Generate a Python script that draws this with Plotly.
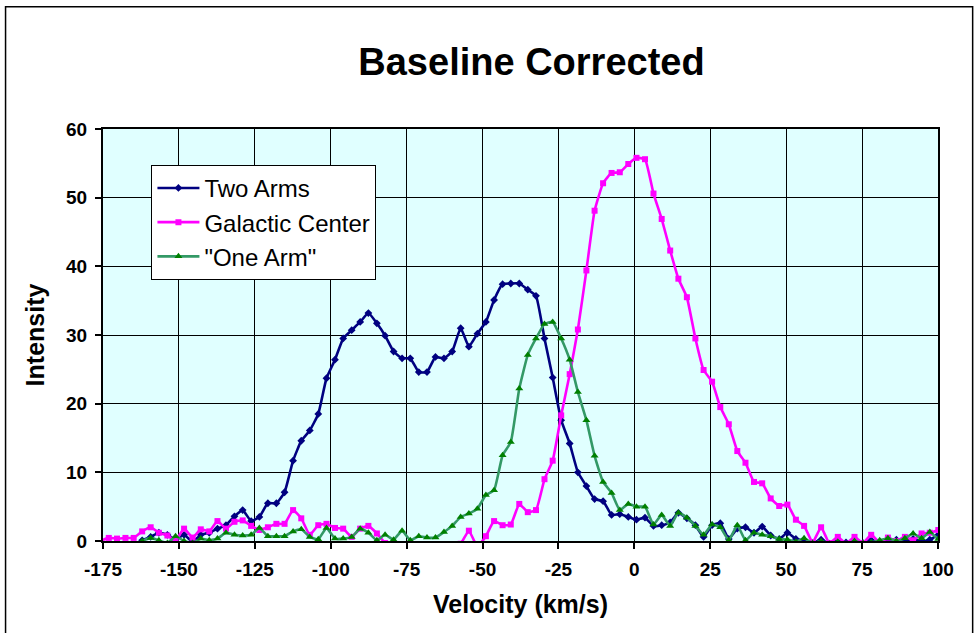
import plotly.graph_objects as go

# Velocity channels (km/s)
velocity = [
    -175.9, -173.1, -170.4, -167.6, -164.9,
    -162.1, -159.3, -156.6, -153.8, -151.1, -148.3, -145.5, -142.8, -140.0, -137.3,
    -134.5, -131.7, -129.0, -126.2, -123.5, -120.7, -117.9, -115.2, -112.4, -109.7,
    -106.9, -104.1, -101.4, -98.6, -95.9, -93.1, -90.3, -87.6, -84.8, -82.1,
    -79.3, -76.5, -73.8, -71.0, -68.3, -65.5, -62.7, -60.0, -57.2, -54.5,
    -51.7, -48.9, -46.2, -43.4, -40.7, -37.9, -35.1, -32.4, -29.6, -26.9,
    -24.1, -21.3, -18.6, -15.8, -13.1, -10.3, -7.5, -4.8, -2.0, 0.7,
    3.5, 6.3, 9.0, 11.8, 14.5, 17.3, 20.1, 22.8, 25.6, 28.3,
    31.1, 33.9, 36.6, 39.4, 42.1, 44.9, 47.7, 50.4, 53.2, 55.9,
    58.7, 61.5, 64.2, 67.0, 69.7, 72.5, 75.3, 78.0, 80.8, 83.5,
    86.3, 89.1, 91.8, 94.6, 97.3, 100.1, 102.9,
]

two_arms = [
    None, None, None, None, None,
    0.1, 0.6, 1.2, 0.9, 0.2, 0.9, -0.1, 0.9, 1.2, 1.8,
    2.3, 3.6, 4.5, 2.9, 3.5, 5.5, 5.5, 7.1, 11.7, 14.6,
    16.1, 18.5, 23.7, 26.4, 29.5, 30.7, 31.9, 33.2, 31.7, 29.9,
    27.6, 26.6, 26.6, 24.6, 24.6, 26.8, 26.6, 27.6, 31.0, 28.3,
    30.2, 31.9, 35.1, 37.4, 37.5, 37.5, 36.6, 35.7, 29.5, 23.8,
    17.6, 14.2, 10.0, 8.0, 6.1, 5.8, 3.8, 3.9, 3.5, 3.1,
    3.4, 2.2, 2.3, 2.7, 4.1, 3.3, 2.3, 0.6, 2.3, 2.6,
    0.3, 1.8, 2.0, 1.2, 2.1, 0.8, 0.3, 1.2, 0.3, 0.0,
    -0.3, 0.2, -0.4, 0.1, -0.2, 0.0, -0.3, 0.1, -0.2, 0.0,
    0.2, -0.1, 0.3, 0.0, 0.2, 0.9, 1.4,
]

galactic_center = [
    0.0, 0.45, 0.35, 0.45, 0.45,
    1.4, 2.0, 1.2, 0.8, 0.1, 1.8, 0.5, 1.7, 1.4, 2.9,
    1.8, 2.8, 3.0, 2.2, 1.6, 2.0, 2.5, 2.5, 4.5, 3.3,
    0.9, 2.3, 2.5, 1.9, 1.8, 0.6, 1.8, 2.2, 1.1, -0.3,
    -1.0, -0.6, -1.3, -0.8, -1.4, -1.0, -0.7, -1.1, -0.4, 1.5,
    -0.8, 0.7, 2.9, 2.3, 2.4, 5.4, 4.2, 4.5, 9.0, 11.7,
    18.3, 24.3, 30.8, 39.4, 48.1, 52.1, 53.6, 53.7, 54.9, 55.8,
    55.6, 50.6, 46.9, 42.3, 38.2, 35.5, 29.5, 24.9, 23.2, 19.5,
    17.0, 13.1, 11.4, 8.6, 8.4, 6.2, 5.1, 5.3, 3.1, 2.2,
    -0.2, 2.0, -0.3, 0.6, -0.4, 0.6, -0.3, 0.9, -0.2, 0.5,
    0.0, 0.6, 0.1, 1.1, 1.2, 1.6, 2.0,
]

one_arm = [
    None, None, None, None, None,
    0.0, 0.45, 0.1, -0.3, 0.7, 0.0, -0.3, 0.35, 0.1, 0.35,
    1.2, 0.9, 0.8, 0.9, 1.9, 0.7, 0.7, 0.7, 1.4, 1.7,
    0.6, 0.25, 1.9, 0.35, 0.35, 0.6, 1.8, 1.2, 0.1, 0.9,
    0.2, 1.5, 0.1, 0.7, 0.5, 0.5, 1.3, 2.2, 3.5, 4.0,
    4.7, 6.7, 7.4, 12.5, 14.4, 22.2, 27.1, 29.5, 31.6, 31.9,
    29.5, 26.4, 21.7, 17.6, 12.4, 8.6, 7.0, 4.5, 5.4, 5.0,
    5.0, 2.4, 3.8, 2.2, 4.1, 3.4, 2.2, 0.9, 2.4, 2.0,
    0.1, 2.3, 0.1, 1.2, 0.9, 0.7, 0.3, 0.2, -0.1, 0.4,
    -0.3, 0.0, -0.4, -0.1, -0.5, 0.0, -0.3, -0.2, 0.1, 0.4,
    0.0, 0.4, 1.1, 0.4, 1.3, 0.3, 0.5,
]

x_ticks = [-175, -150, -125, -100, -75, -50, -25, 0, 25, 50, 75, 100]
x_tick_labels = ["-175", "-150", "-125", "-100", "-75", "-50", "-25", "0", "25", "50", "75", "100"]
y_ticks = [0, 10, 20, 30, 40, 50, 60]
y_tick_labels = ["0", "10", "20", "30", "40", "50", "60"]

FONT = "Arial, Liberation Sans, sans-serif"

fig = go.Figure()
fig.add_trace(go.Scatter(
    x=velocity, y=two_arms, name="Two Arms", mode="lines+markers",
    line=dict(color="#000080", width=2.6, shape="spline", smoothing=0.4),
    marker=dict(symbol="diamond", size=6, color="#000080"),
    legendgroup="a",
))
fig.add_trace(go.Scatter(
    x=velocity, y=galactic_center, name="Galactic Center", mode="lines+markers",
    line=dict(color="#FF00FF", width=2.6, shape="spline", smoothing=0.4),
    marker=dict(symbol="square", size=6, color="#FF00FF"),
    legendgroup="b",
))
fig.add_trace(go.Scatter(
    x=velocity, y=one_arm, name='"One Arm"', mode="lines+markers",
    line=dict(color="#339966", width=2.6, shape="spline", smoothing=0.4),
    marker=dict(symbol="triangle-up", size=7, color="#008000"),
    legendgroup="c",
))

fig.update_layout(
    width=977, height=633,
    margin=dict(l=103, r=39, t=129, b=92),
    paper_bgcolor="white",
    plot_bgcolor="#E0FFFF",
    font=dict(family=FONT, color="black"),
    title=dict(text="Baseline Corrected", x=0.544, xref="container", xanchor="center",
               y=0.902, yref="container", yanchor="middle",
               font=dict(size=38, family=FONT, weight="bold", color="black")),
    legend=dict(x=0.058, y=0.913, xanchor="left", yanchor="top",
                bgcolor="white", bordercolor="black", borderwidth=1,
                font=dict(size=24, family=FONT, color="black"),
                itemwidth=42, tracegroupgap=0, traceorder="grouped"),
    showlegend=True,
    xaxis=dict(range=[-175, 100], tickvals=x_ticks, ticktext=x_tick_labels,
               showgrid=True, gridcolor="black", gridwidth=1,
               showline=True, linecolor="black", linewidth=2, mirror=True,
               ticks="outside", ticklen=6, tickcolor="black", tickwidth=1.5,
               ticklabelstandoff=4, zeroline=False,
               tickfont=dict(size=19, family=FONT, weight="bold", color="black"),
               title=dict(text="Velocity (km/s)", standoff=17,
                          font=dict(size=25, family=FONT, weight="bold", color="black"))),
    yaxis=dict(range=[0, 60], tickvals=y_ticks, ticktext=y_tick_labels,
               showgrid=True, gridcolor="black", gridwidth=1,
               showline=True, linecolor="black", linewidth=2, mirror=True,
               ticks="outside", ticklen=6, tickcolor="black", tickwidth=1.5,
               ticklabelstandoff=4, zeroline=False,
               tickfont=dict(size=19, family=FONT, weight="bold", color="black"),
               title=dict(text="Intensity", standoff=14,
                          font=dict(size=25, family=FONT, weight="bold", color="black"))),
    shapes=[dict(type="rect", xref="paper", yref="paper",
                 x0=-0.1167, x1=1.0415, y0=-0.26, y1=1.297,
                 line=dict(color="black", width=1.5), fillcolor="rgba(0,0,0,0)", layer="below")],
)

fig.write_html("out.html", config={"displayModeBar": False},
               post_script="document.body.style.margin='0px';")
